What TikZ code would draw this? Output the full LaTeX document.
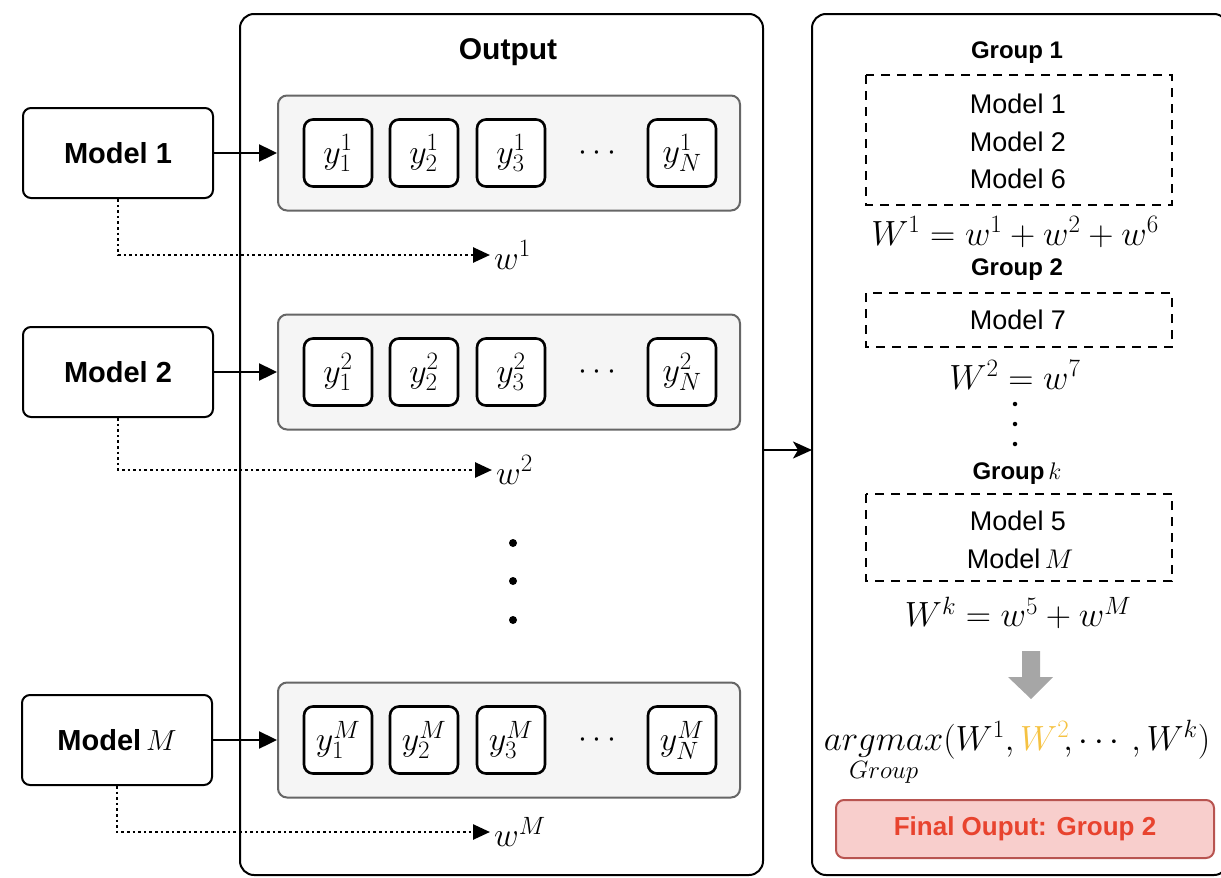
\RequirePackage{fix-cm}
\documentclass[tikz,border=0pt]{standalone}
\usepackage{amsmath}
\usepackage[no-math]{fontspec}
\setmainfont{Liberation Sans}
\usetikzlibrary{arrows.meta,positioning}
\DeclareMathSizes{34}{34}{25}{19}
\DeclareMathSizes{35}{35}{25}{19}
\definecolor{rowfill}{HTML}{F5F5F5}
\definecolor{rowline}{HTML}{666666}
\definecolor{finfill}{HTML}{F8CECC}
\definecolor{finline}{HTML}{B85450}
\definecolor{fintext}{HTML}{E8432E}
\definecolor{hilite}{HTML}{F5C242}
\definecolor{bigarrow}{HTML}{A6A6A6}
\newcommand{\fs}[1]{\fontsize{#1}{#1}\selectfont}
\tikzset{
  model/.style={draw, line width=2pt, rounded corners=8pt, minimum width=190pt,
    minimum height=90pt, font=\fs{29}\bfseries, inner sep=0pt},
  panel/.style={draw, line width=2pt, rounded corners=14pt},
  outrow/.style={draw=rowline, fill=rowfill, line width=2pt, rounded corners=9pt},
  ybox/.style={draw, fill=white, line width=2.6pt, rounded corners=9pt,
    minimum width=68pt, minimum height=67pt, inner sep=0pt, font=\fs{34}},
  grpbox/.style={draw, line width=2.6pt, dash pattern=on 9pt off 7pt},
  grptitle/.style={font=\fs{24}\bfseries, inner sep=0pt},
  mtxt/.style={font=\fs{27}, inner sep=0pt},
  formula/.style={font=\fs{35}, inner sep=0pt},
  wlabel/.style={anchor=west, font=\fs{34}, inner sep=4pt},
  feed/.style={line width=2.4pt, -{Triangle[length=18pt,width=17pt]}},
  wlink/.style={line width=2.6pt, dash pattern=on 2.6pt off 3pt,
    -{Triangle[length=17pt,width=15pt]}},
  vdot/.style={circle, fill, inner sep=0pt, minimum size=8pt},
  sdot/.style={circle, fill, inner sep=0pt, minimum size=4.5pt}
}
\begin{document}
\begin{tikzpicture}[x=1pt,y=-1pt]
\useasboundingbox (0,0) rectangle (1221,878);

% ---- the two large panels ----
\draw[panel] (240,14) rectangle (763,875);
\draw[panel] (812,14) rectangle (1228,875);
\node[font=\fs{30}\bfseries] (outtitle) at (508,52) {Output};

% ---- models ----
\node[model] (m1) at (118,153) {Model 1};
\node[model] (m2) at (118,372) {Model 2};
\node[model] (mM) at (117,740) {Model\,$M$};

% ---- output rows ----
\foreach \r/\s/\yc in {1/1/153, 2/2/372, M/M/740}{
  \node[outrow, minimum width=462pt, minimum height=115pt] (row\r) at (509,\yc) {};
  \node[ybox] (y\r a) at (338,\yc) {$y_1^{\s}$};
  \node[ybox] (y\r b) at (424,\yc) {$y_2^{\s}$};
  \node[ybox] (y\r c) at (511,\yc) {$y_3^{\s}$};
  \node[font=\fs{32}] (y\r d) at (600,\yc) {$\cdots$};
  \node[ybox] (y\r n) at (682,\yc) {$y_N^{\s}$};
}

% ---- weight labels ----
\node[wlabel] (w1) at (490,255) {$w^1$};
\node[wlabel] (w2) at (492,470) {$w^2$};
\node[wlabel] (wM) at (490,832) {$w^M$};

% ---- connectors ----
\draw[feed] (m1.east) -- (row1.west);
\draw[feed] (m2.east) -- (row2.west);
\draw[feed] (mM.east) -- (rowM.west);
\draw[wlink] (m1.south) |- (w1.west);
\draw[wlink] (m2.south) |- (w2.west);
\draw[wlink] (mM.south) |- (wM.west);

% ---- vertical ellipsis between rows ----
\node[vdot] (e1) at (513,543) {};
\node[vdot] (e2) at (513,581) {};
\node[vdot] (e3) at (513,620) {};

% ---- link between panels ----
\coordinate (pa) at (763,450);
\coordinate (pb) at (812,450);
\draw[line width=2.4pt, -{Stealth[length=19pt,width=17pt,inset=5pt]}] (pa) -- (pb);

% ---- groups ----
\node[grptitle] (g1t) at (1017,53) {Group 1};
\draw[grpbox] (866,75) rectangle (1172,205);
\node[mtxt] (g1a) at (1018,104) {Model 1};
\node[mtxt] (g1b) at (1018,142) {Model 2};
\node[mtxt] (g1c) at (1018,179) {Model 6};
\node[formula] (f1) at (1015,232) {$W^1 = w^1 + w^2 + w^6$};

\node[grptitle] (g2t) at (1017,270) {Group 2};
\draw[grpbox] (866,293) rectangle (1172,347);
\node[mtxt] (g2a) at (1018,320) {Model 7};
\node[formula] (f2) at (1015,375) {$W^2 = w^7$};

\node[sdot] (d1) at (1015,404) {};
\node[sdot] (d2) at (1015,424) {};
\node[sdot] (d3) at (1015,444) {};

\node[grptitle] (gkt) at (1017,474) {Group\,$k$};
\draw[grpbox] (866,494) rectangle (1172,581);
\node[mtxt] (gka) at (1018,521) {Model 5};
\node[mtxt] (gkb) at (1020,559) {Model\,$M$};
\node[formula] (fk) at (1018,613) {$W^k = w^5 + w^M$};

% ---- gray arrow to the decision ----
\fill[bigarrow] (1022,651) -- (1040,651) -- (1040,677) -- (1053,677)
  -- (1031,699) -- (1008,677) -- (1022,677) -- cycle;

\node[font=\fs{35}, inner sep=0pt, anchor=base] (am) at (1017,750)
  {$\underset{Group}{argmax}(W^1,\textcolor{hilite}{W^2}\!,\cdots,W^k)$};

\node[draw=finline, fill=finfill, line width=2pt, rounded corners=8pt,
  minimum width=378pt, minimum height=58pt, font=\fs{26}\bfseries,
  text=fintext] (fin) at (1025,829) {Final Ouput: Group 2};
\end{tikzpicture}
\end{document}
